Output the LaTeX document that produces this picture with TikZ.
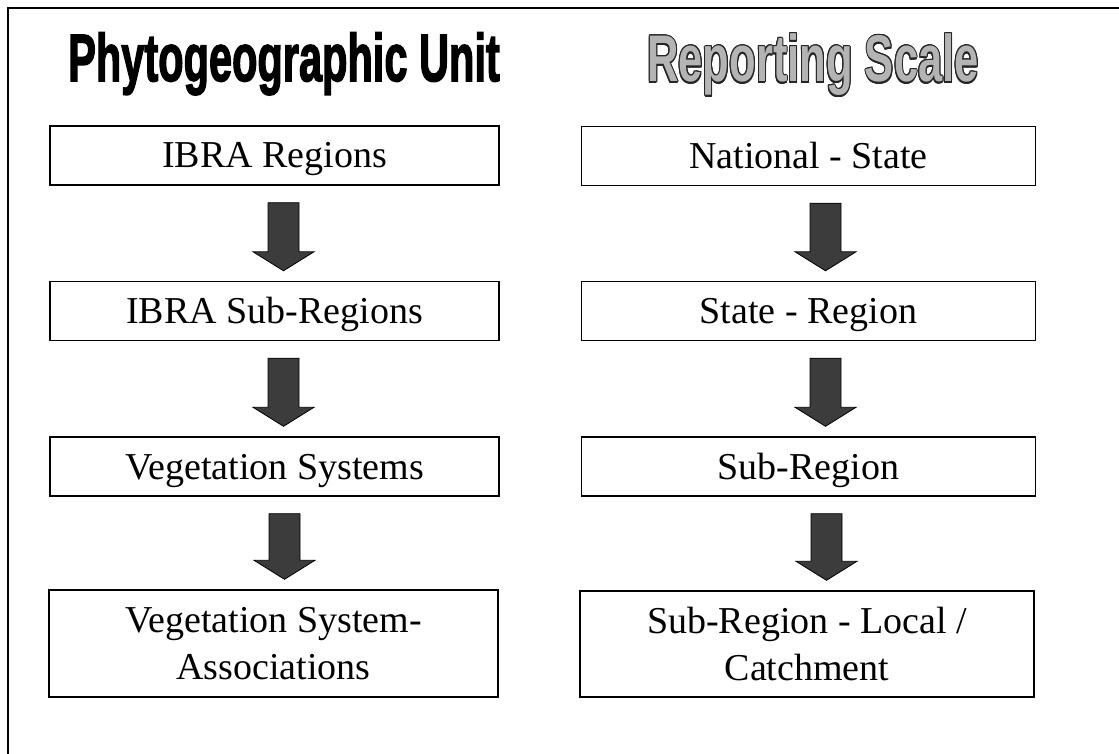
\documentclass[tikz,border=0pt]{standalone}
\usepackage{fontspec}
\setmainfont{Liberation Serif}
\newfontface\titlefont[FakeBold=2.5]{Liberation Sans Bold}
\newfontface\outlinefont{Liberation Sans Bold}
\usepackage[copies]{contour}
\usetikzlibrary{calc}
\definecolor{arrowgray}{HTML}{3C3C3C}
\definecolor{titlegray}{HTML}{B4B4B4}
\tikzset{
  unitbox/.style={draw=black, line width=1.4pt, minimum width=449pt, minimum height=59pt,
    inner sep=0pt, align=center, font=\fontsize{38}{47}\selectfont},
  oneline/.style={text height=25pt, text depth=0pt},
  scalebox/.style={unitbox, minimum width=454pt},
  bigarrow/.style={fill=arrowgray, draw=black, line width=0.8pt, line join=miter},
  frameline/.style={line width=2pt}
}
\newcommand{\fatarrow}[3]{%
  \path let \p1=(#1.south), \p2=(#2.north) in
    [bigarrow] (\x1+#3-15.5pt,\y1-17pt) -- (\x1+#3+15.5pt,\y1-17pt)
      -- (\x1+#3+15.5pt,\y2+29pt) -- (\x1+#3+30.5pt,\y2+29pt)
      -- (\x1+#3,\y2+10pt) -- (\x1+#3-30.5pt,\y2+29pt)
      -- (\x1+#3-15.5pt,\y2+29pt) -- cycle;}
\begin{document}
\begin{tikzpicture}[x=1pt,y=-1pt]
\useasboundingbox (0,0) rectangle (1119,754);
\draw[frameline] (1119,8) -- (8,8) -- (8,754);
% titles
\node[anchor=base, inner sep=0pt] (t1) at (284,81)
  {\scalebox{0.62}[1]{\titlefont\fontsize{67}{67}\selectfont Phytogeographic Unit}};
\contourlength{1.5pt}
\node[anchor=base, inner sep=0pt] (t2) at (813,82)
  {\scalebox{0.66}[1]{\outlinefont\fontsize{66}{66}\selectfont\textcolor{titlegray}{\contour{black!85}{Reporting Scale}}}};
% left column
\node[unitbox, oneline] (l1) at (274.5,155.5) {IBRA Regions};
\node[unitbox, oneline] (l2) at (274.5,311) {IBRA Sub-Regions};
\node[unitbox, oneline] (l3) at (274.5,466.5) {Vegetation Systems};
\node[unitbox, minimum height=107pt] (l4) at (273.5,643.5) {Vegetation System-\\Associations};
% right column
\node[scalebox, oneline] (r1) at (808.5,156) {National - State};
\node[scalebox, oneline] (r2) at (808.5,311) {State - Region};
\node[scalebox, oneline] (r3) at (808.5,466.5) {Sub-Region};
\node[scalebox, minimum height=106pt] (r4) at (807,644) {Sub-Region - Local /\\Catchment};
% arrows
\fatarrow{l1}{l2}{9pt}
\fatarrow{l2}{l3}{9pt}
\fatarrow{l3}{l4}{10pt}
\fatarrow{r1}{r2}{17pt}
\fatarrow{r2}{r3}{17pt}
\fatarrow{r3}{r4}{18pt}
\end{tikzpicture}
\end{document}
